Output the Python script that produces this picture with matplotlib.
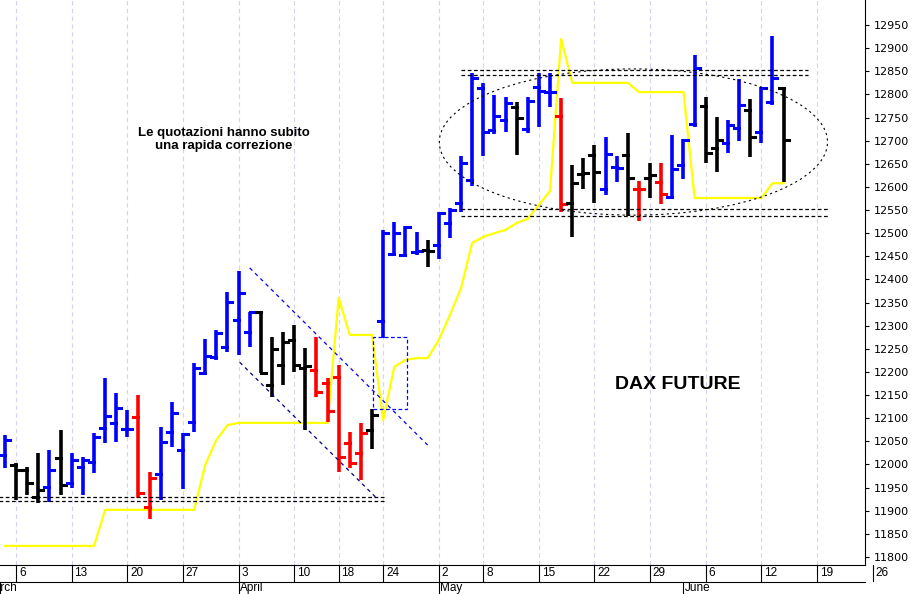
import matplotlib.pyplot as plt
import matplotlib.transforms as mtransforms
from matplotlib.patches import Ellipse, Rectangle

# daily OHLC, DAX future, 3 Mar - 15 Jun 2017 (trading days)
opens = [12020, 11999, 11988, 11930, 11951, 12014, 11960, 11994, 12005, 12079,
         12090, 12077, 12103, 11908, 11979, 12070, 12031, 12092, 12198, 12232,
         12254, 12312, 12286, 12330, 12172, 12215, 12269, 12209, 12204, 12176,
         12189, 12046, 12025, 12074, 12310, 12455, 12453, 12459, 12464, 12474,
         12522, 12565, 12615, 12814, 12723, 12745, 12773, 12725, 12816, 12805,
         12753, 12565, 12628, 12669, 12595, 12643, 12669, 12595, 12619, 12611,
         12578, 12647, 12736, 12775, 12684, 12695, 12727, 12766, 12719, 12784,
         12814]
highs = [12064, 12003, 11994, 12025, 12031, 12074, 12025, 12016, 12068, 12187,
         12154, 12118, 12150, 11984, 12081, 12135, 12068, 12219, 12271, 12291,
         12373, 12418, 12330, 12332, 12276, 12286, 12301, 12252, 12276, 12187,
         12215, 12070, 12090, 12120, 12507, 12524, 12515, 12502, 12485, 12546,
         12554, 12667, 12846, 12825, 12799, 12794, 12784, 12794, 12846, 12846,
         12792, 12647, 12662, 12691, 12708, 12667, 12717, 12613, 12652, 12652,
         12712, 12704, 12885, 12794, 12751, 12745, 12833, 12790, 12816, 12926,
         12816]
lows = [11992, 11923, 11934, 11917, 11919, 11934, 11949, 11934, 11982, 12046,
        12049, 12059, 11927, 11882, 11923, 12038, 11947, 12070, 12193, 12226,
        12243, 12237, 12254, 12198, 12146, 12172, 12200, 12074, 12146, 12092,
        11984, 11992, 11966, 12033, 12273, 12453, 12453, 12453, 12427, 12444,
        12490, 12546, 12602, 12667, 12714, 12719, 12669, 12717, 12729, 12773,
        12546, 12492, 12595, 12565, 12582, 12611, 12537, 12526, 12576, 12563,
        12576, 12617, 12729, 12652, 12632, 12673, 12699, 12665, 12695, 12777,
        12611]
closes = [12053, 11988, 11960, 11945, 11988, 11956, 12010, 12010, 12059, 12105,
          12122, 12077, 11938, 11971, 12049, 12111, 12066, 12209, 12234, 12284,
          12351, 12371, 12330, 12198, 12250, 12265, 12215, 12213, 12157, 12116,
          12016, 12003, 12068, 12107, 12500, 12500, 12513, 12461, 12461, 12544,
          12550, 12652, 12835, 12719, 12753, 12781, 12749, 12786, 12807, 12805,
          12563, 12608, 12630, 12632, 12671, 12641, 12619, 12595, 12626, 12585,
          12639, 12701, 12857, 12673, 12701, 12734, 12777, 12708, 12814, 12835,
          12701]
bar_colors = "bkkkbkbbbbbbrrbbbbbbbbbkkkkkrrrrrkbbbbkbbbbbbbkbbbrkkkbbkrkrbbbkkbbkbbk"

# yellow indicator line
yellow = [11824, 11824, 11824, 11824, 11824, 11824, 11824, 11824, 11824, 11902,
          11902, 11902, 11902, 11902, 11902, 11902, 11902, 11902, 11999, 12053,
          12085, 12090, 12090, 12090, 12090, 12090, 12090, 12090, 12090, 12090,
          12360, 12280, 12280, 12280, 12096, 12211, 12226, 12230, 12230, 12269,
          12323, 12381, 12479, 12492, 12500, 12507, 12522, 12531, 12561, 12591,
          12920, 12825, 12825, 12825, 12825, 12825, 12825, 12805, 12805, 12805,
          12805, 12805, 12576, 12576, 12576, 12576, 12576, 12576, 12576, 12608,
          12608]

day_ticks = [1, 6, 11, 16, 21, 26, 30, 34, 39, 43, 48, 53, 58, 63, 68, 73, 78]
day_labels = ["6", "13", "20", "27", "3", "10", "18", "24", "2", "8", "15",
              "22", "29", "6", "12", "19", "26"]
month_pos = [-0.45, 21, 39, 61]
month_names = ["March", "April", "May", "June"]

fig = plt.figure(figsize=(9.18, 5.94), dpi=100)
ax = fig.add_axes([0, 0.049, 0.942, 0.951])

for t in day_ticks:
    ax.axvline(t, color="#d4d4f2", lw=0.8, ls=(0, (4, 3)), zorder=0)

ax.plot(range(len(yellow)), yellow, color="#ffff00", lw=1.6, zorder=2)

cmap = {"b": "#0000ff", "k": "#000000", "r": "#ff0000"}
for i in range(len(opens)):
    c = cmap[bar_colors[i]]
    ax.plot([i, i], [lows[i], highs[i]], color=c, lw=2.6, solid_capstyle="butt", zorder=3)
    ax.plot([i - 0.45, i], [opens[i], opens[i]], color=c, lw=2.2, zorder=3)
    ax.plot([i, i + 0.45], [closes[i], closes[i]], color=c, lw=2.2, zorder=3)

# support / resistance lines
for lvl in (11930, 11921):
    ax.plot([-0.5, 34.3], [lvl, lvl], color="k", lw=0.9, ls=(0, (3, 2)), zorder=4)
for lvl in (12853, 12842):
    ax.plot([41, 72.2], [lvl, lvl], color="k", lw=0.9, ls=(0, (3, 2)), zorder=4)
for lvl in (12552, 12537):
    ax.plot([41, 74], [lvl, lvl], color="k", lw=0.9, ls=(0, (3, 2)), zorder=4)

ax.plot([22, 38], [12425, 12042], color="#0000ff", lw=0.9, ls=(0, (3, 3)), zorder=4)
ax.plot([21.1, 33.3], [12221, 11930], color="#000080", lw=0.9, ls=(0, (3, 3)), zorder=4)
ax.add_patch(Rectangle((33.1, 12120), 3.0, 156, fill=False, ec="#0000ff",
                       lw=0.9, ls=(0, (3, 2)), zorder=4))
ax.add_patch(Ellipse((56.5, 12697), 34.9, 316, fill=False, ec="k",
                     lw=0.8, ls=(0, (2, 3)), zorder=4))

ax.text(19.7, 12703, "Le quotazioni hanno subito\nuna rapida correzione",
        ha="center", va="center", fontsize=9.5, fontweight="bold",
        family="Liberation Sans", linespacing=1.1)
ax.text(60.5, 12172, "DAX FUTURE", ha="center", va="center", fontsize=14,
        fontweight="bold", family="Liberation Sans")

ax.set_xlim(-0.45, 77.3)
ax.set_ylim(11783, 13004)
ax.yaxis.tick_right()
ax.set_yticks(range(11800, 12951, 50))
ax.tick_params(axis="y", labelsize=8, length=3, direction="out")
for s in ("top", "left"):
    ax.spines[s].set_visible(False)

ax.set_xticks([])
trans = mtransforms.blended_transform_factory(ax.transData, ax.transAxes)
for t, lab in zip(day_ticks, day_labels):
    ax.plot([t, t], [0, -0.028], color="k", lw=0.8, transform=trans, clip_on=False)
    ax.text(t + 0.25, -0.004, lab, transform=trans, ha="left", va="top",
            fontsize=8.5, family="Liberation Sans", clip_on=False)
for p, m in zip(month_pos, month_names):
    ax.plot([p, p], [-0.03, -0.06], color="k", lw=0.8, transform=trans, clip_on=False)
    ax.text(p + 0.1 if p > 0 else -1.9, -0.031, m, transform=trans, ha="left", va="top",
            fontsize=8.5, family="Liberation Sans", clip_on=False)
ax.plot([-0.45, 77.3], [-0.03, -0.03], color="k", lw=0.8, transform=trans, clip_on=False)

fig.savefig("out.png", dpi=100)
